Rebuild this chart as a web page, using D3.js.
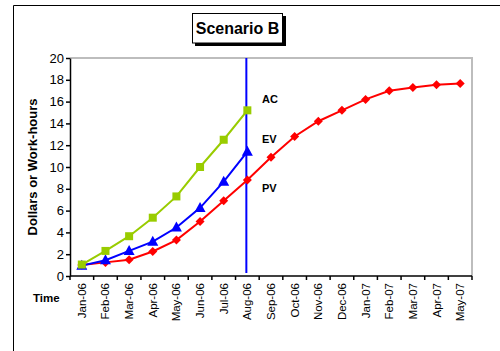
<!DOCTYPE html>
<html>
<head>
<meta charset="utf-8">
<script src="https://cdn.jsdelivr.net/npm/d3@7"></script>
<style>
  body { margin: 0; background: #fff; }
  svg, svg text { font-family: "Liberation Sans", Arial, Helvetica, sans-serif; }
</style>
</head>
<body>
<div id="chart"></div>
<script>
// month categories
var months = ["Jan-06", "Feb-06", "Mar-06", "Apr-06", "May-06", "Jun-06", "Jul-06", "Aug-06",
    "Sep-06", "Oct-06", "Nov-06", "Dec-06", "Jan-07", "Feb-07", "Mar-07", "Apr-07", "May-07"];

// series values
var pv = [1.0, 1.25, 1.5, 2.25, 3.3, 5.0, 6.9, 8.8, 10.9, 12.8, 14.2, 15.2, 16.2, 17.0, 17.3, 17.55, 17.65];
var ev = [0.95, 1.45, 2.3, 3.15, 4.45, 6.25, 8.65, 11.4];
var ac = [1.05, 2.3, 3.65, 5.35, 7.3, 10.0, 12.5, 15.2];

var yTicks = [0, 2, 4, 6, 8, 10, 12, 14, 16, 18, 20];
var statusMonth = "Aug-06";

var width = 500, height = 351;
var margin = { top: 58, right: 28, bottom: 75, left: 70 };
var w = width - margin.left - margin.right,
    h = height - margin.top - margin.bottom;

var svg = d3.select("#chart").append("svg")
    .attr("width", width)
    .attr("height", height)
    .attr("font-family", "Liberation Sans, Arial, sans-serif");

// outer frame (runs off the page right/bottom)
svg.append("path")
    .attr("d", "M13.5,360 V5.5 H510")
    .attr("fill", "none")
    .attr("stroke", "#000")
    .attr("stroke-width", 1);

var g = svg.append("g")
    .attr("transform", "translate(" + margin.left + "," + margin.top + ")");

// scales
var x = d3.scaleBand()
    .domain(months)
    .range([0, w]);

var y = d3.scaleLinear()
    .domain([0, 20])
    .range([h, 0]);

function cx(d, i) { return x(months[i]) + x.bandwidth() / 2; }

// plot area border (grey right + top)
g.append("path")
    .attr("d", "M0," + 0 + " H" + w + " V" + h)
    .attr("fill", "none")
    .attr("stroke", "#bdbdbd")
    .attr("stroke-width", 2);

// y axis
var yAxis = d3.axisLeft(y).tickValues(yTicks).tickSize(4).tickSizeOuter(0);
var yg = g.append("g").attr("class", "y-axis").call(yAxis);
yg.attr("font-family", null);
yg.select(".domain").attr("stroke", "#000").attr("stroke-width", 1.5);
yg.selectAll(".tick line").attr("stroke", "#000").attr("stroke-width", 1.5);
yg.selectAll(".tick text")
    .attr("font-size", 13)
    .attr("fill", "#000")
    .attr("x", -6);

// x axis with ticks on band boundaries
var xg = g.append("g")
    .attr("class", "x-axis")
    .attr("transform", "translate(0," + h + ")");
xg.append("line")
    .attr("x1", 0).attr("x2", w)
    .attr("stroke", "#000").attr("stroke-width", 1.5);
xg.selectAll(".xtick")
    .data(months.concat(["end"]))
    .enter().append("line")
    .attr("class", "xtick")
    .attr("x1", function(d, i) { return i * x.step(); })
    .attr("x2", function(d, i) { return i * x.step(); })
    .attr("y1", 0).attr("y2", 4)
    .attr("stroke", "#000").attr("stroke-width", 1.5);
xg.selectAll(".xlabel")
    .data(months)
    .enter().append("text")
    .attr("class", "xlabel")
    .attr("transform", function(d) {
        return "translate(" + (x(d) + x.bandwidth() / 2 + 4) + ",7) rotate(-90)";
    })
    .attr("text-anchor", "end")
    .attr("font-size", 11.5)
    .text(function(d) { return d; });

// status date line
var sx = x(statusMonth) + x.bandwidth() / 2 - 1;
g.append("line")
    .attr("x1", sx).attr("x2", sx)
    .attr("y1", 0).attr("y2", h - 3)
    .attr("stroke", "#0000ff")
    .attr("stroke-width", 2);

var line = d3.line()
    .x(cx)
    .y(function(d) { return y(d); });

// PV - red diamonds
g.append("path").datum(pv)
    .attr("d", line)
    .attr("fill", "none").attr("stroke", "#ff0000").attr("stroke-width", 2);
g.selectAll(".pv").data(pv).enter().append("path")
    .attr("class", "pv")
    .attr("transform", function(d, i) { return "translate(" + cx(d, i) + "," + y(d) + ")"; })
    .attr("d", "M0,-4.5 L4.5,0 L0,4.5 L-4.5,0 Z")
    .attr("fill", "#ff0000");

// EV - blue triangles
g.append("path").datum(ev)
    .attr("d", line)
    .attr("fill", "none").attr("stroke", "#0000ff").attr("stroke-width", 2);
g.selectAll(".ev").data(ev).enter().append("path")
    .attr("class", "ev")
    .attr("transform", function(d, i) { return "translate(" + cx(d, i) + "," + y(d) + ")"; })
    .attr("d", "M0,-6 L5.5,4 L-5.5,4 Z")
    .attr("fill", "#0000ff");

// AC - green squares
g.append("path").datum(ac)
    .attr("d", line)
    .attr("fill", "none").attr("stroke", "#99cc00").attr("stroke-width", 2);
g.selectAll(".ac").data(ac).enter().append("rect")
    .attr("class", "ac")
    .attr("x", function(d, i) { return cx(d, i) - 4; })
    .attr("y", function(d) { return y(d) - 4; })
    .attr("width", 8).attr("height", 8)
    .attr("fill", "#99cc00");

// series labels
g.append("text").attr("x", 192).attr("y", 45).attr("font-size", 11).attr("font-weight", "bold").text("AC");
g.append("text").attr("x", 192).attr("y", 85).attr("font-size", 11).attr("font-weight", "bold").text("EV");
g.append("text").attr("x", 192).attr("y", 134).attr("font-size", 11).attr("font-weight", "bold").text("PV");

// title box with shadow
svg.append("rect")
    .attr("x", 195).attr("y", 16).attr("width", 91).attr("height", 30)
    .attr("fill", "#000");
svg.append("rect")
    .attr("x", 192.5).attr("y", 13.5).attr("width", 90).attr("height", 29.5)
    .attr("fill", "#fff").attr("stroke", "#000").attr("stroke-width", 1);
svg.append("text")
    .attr("x", 237.5).attr("y", 34)
    .attr("text-anchor", "middle")
    .attr("font-size", 16)
    .attr("font-weight", "bold")
    .text("Scenario B");

// axis titles
svg.append("text")
    .attr("transform", "translate(37," + (margin.top + h / 2) + ") rotate(-90)")
    .attr("text-anchor", "middle")
    .attr("font-size", 13)
    .attr("font-weight", "bold")
    .text("Dollars or Work-hours");

svg.append("text")
    .attr("x", 33).attr("y", 302)
    .attr("font-size", 11.5)
    .attr("font-weight", "bold")
    .text("Time");
</script>
</body>
</html>
